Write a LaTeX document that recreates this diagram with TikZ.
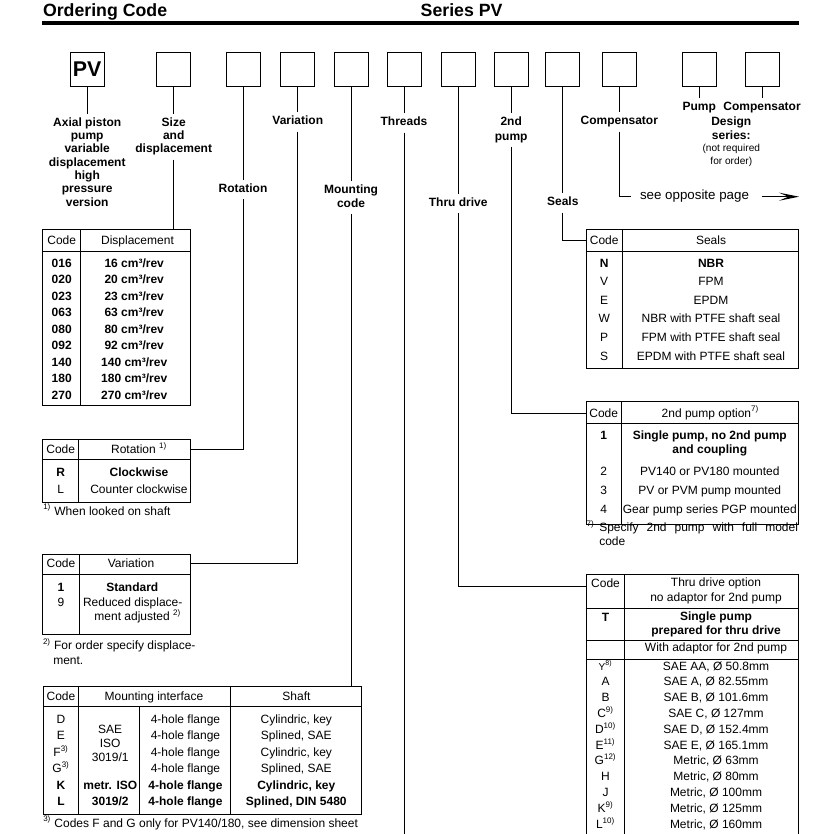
\documentclass[tikz,border=0pt]{standalone}
\usepackage{fontspec}
\setmainfont{Liberation Sans}
\usetikzlibrary{calc,arrows.meta}
\newcommand\lstr{\rule[-2pt]{0pt}{8.5pt}}
\begin{document}
\begin{tikzpicture}[x=0.75pt,y=-0.75pt,
  every node/.style={inner sep=0pt,outer sep=0pt},
  ln/.style={line width=0.75pt},
  codebox/.style={draw,line width=0.75pt,minimum width=25.5pt,minimum height=25.5pt},
  lab/.style={font=\fontsize{9}{10}\selectfont\bfseries,align=center,anchor=north,inner ysep=3pt},
  tbl/.style={draw,line width=0.75pt,anchor=north west},
  tx/.style={font=\fontsize{9}{11}\selectfont,anchor=base},
  tb/.style={font=\fontsize{9}{11}\selectfont\bfseries,anchor=base},
  fn/.style={font=\fontsize{9}{11}\selectfont,anchor=base west},
]
\useasboundingbox (0,0) rectangle (828,834);
\fill[white] (0,0) rectangle (828,834);
\clip (0,0) rectangle (828,834);

% ---------- heading
\node[font=\fontsize{13.3}{16}\selectfont\bfseries,anchor=base west] (title) at (43,16.3) {Ordering Code};
\node[font=\fontsize{13.3}{16}\selectfont\bfseries,anchor=base west] (series) at (420.7,16.3) {Series PV};
\draw[line width=3pt] (42,23) -- (799,23);

% ---------- code boxes
\node[codebox,font=\fontsize{16}{18}\selectfont\bfseries] (b1) at (87.2,69.3) {PV};
\foreach \n/\x in {2/173.7,3/243,4/297.8,5/351,6/404,7/458.2,8/511.2,9/562.8,10/619.3,11/699.2,12/762}
  \node[codebox] (b\n) at (\x,69.3) {};

% ---------- labels
\node[lab] (l1) at (87.2,113.6) {Axial piston\lstr\\pump\\variable\\displacement\\high\\pressure\\version\lstr};
\node[lab] (l2) at (173.7,113.6) {Size\lstr\\and\\displacement\lstr};
\node[lab] (l3) at (243,179.8) {Rotation\lstr};
\node[lab] (l4) at (297.8,112.3) {Variation\lstr};
\node[lab] (l5) at (351,181.3) {Mounting\lstr\\code\lstr};
\node[lab] (l6) at (404,113.3) {Threads\lstr};
\node[lab] (l7) at (458.2,193.8) {Thru drive\lstr};
\node[lab,font=\fontsize{9}{11}\selectfont\bfseries] (l8) at (511.2,112.8) {2nd\lstr\\pump\lstr};
\node[lab] (l9) at (562.8,193.3) {Seals\lstr};
\node[lab] (l10) at (619.3,112.3) {Compensator\lstr};
\node[lab] (l11) at (699.2,97.8) {Pump\lstr};
\node[lab] (l12) at (762,97.8) {Compensator\lstr};
\node[lab,font=\fontsize{9}{10.7}\selectfont\bfseries] (l13) at (731.3,112.8) {Design\lstr\\series:\lstr};
\node[font=\fontsize{7.6}{9}\selectfont,anchor=base] (nr1) at (731.3,151.7) {(not required};
\node[font=\fontsize{7.6}{9}\selectfont,anchor=base] (nr2) at (731.3,164.3) {for order)};
\node[font=\fontsize{10}{12}\selectfont,anchor=base west] (seeop) at (640,199.5) {see opposite page};

% ---------- tables
% displacement
\node[tbl,minimum width=111pt,minimum height=132.5pt] (disp) at (42.7,229.3) {};
\draw[ln] (80.7,229.3) -- (80.7,406);
\draw[ln] (42.7,251.7) -- (190.7,251.7);
\node[tx] (dh1) at (61.7,244) {Code};
\node[tx] (dh2) at (137.5,244) {Displacement};
\foreach \c/\v [count=\i from 0] in {016/16,020/20,023/23,063/63,080/80,092/92,140/140,180/180,270/270}{
  \node[tb] (dc\i) at ({61.7},{267+16.5*\i}) {\c};
  \node[tb] (dv\i) at ({134.2},{267+16.5*\i}) {\v\ cm³/rev};
}

% rotation
\node[tbl,minimum width=111pt,minimum height=47.25pt] (rot) at (42.7,439.3) {};
\draw[ln] (78.7,439.3) -- (78.7,502.3);
\draw[ln] (42.7,459.3) -- (190.7,459.3);
\node[tx] (rh1) at (60.7,453.3) {Code};
\node[tx] (rh2) at (139,453.3) {Rotation \textsuperscript{1)}};
\node[tb] (rc1) at (60.7,476) {R};
\node[tb] (rv1) at (139,476) {Clockwise};
\node[tx] (rc2) at (60.7,493.6) {L};
\node[tx] (rv2) at (139,493.6) {Counter clockwise};
\node[fn] (rf) at (43.3,515) {\textsuperscript{1)} When looked on shaft};

% variation
\node[tbl,minimum width=111pt,minimum height=60pt] (var) at (42.7,554.3) {};
\draw[ln] (79,554.3) -- (79,634.3);
\draw[ln] (42.7,574.3) -- (190.7,574.3);
\node[tx] (vh1) at (61,567.6) {Code};
\node[tx] (vh2) at (131,567.6) {Variation};
\node[tb] (vc1) at (61,591) {1};
\node[tb] (vv1) at (132.3,591) {Standard};
\node[tx] (vc2) at (61,606) {9};
\node[tx] (vv2) at (132.7,606) {Reduced displace-};
\node[tx] (vv3) at (137.7,620.5) {ment adjusted \textsuperscript{2)}};
\node[fn] (vf1) at (43,649.8) {\textsuperscript{2)} For order specify displace-};
\node[fn] (vf2) at (53.3,664) {ment.};

% mounting
\node[tbl,minimum width=238.8pt,minimum height=95.7pt] (mount) at (43.3,686.7) {};
\draw[ln] (78.7,686.7) -- (78.7,814.3);
\draw[ln] (230.7,686.7) -- (230.7,814.3);
\draw[ln] (139.3,706.7) -- (139.3,814.3);
\draw[ln] (43.3,706.7) -- (361.7,706.7);
\node[tx] (mh1) at (61,700.5) {Code};
\node[tx] (mh2) at (154,700.5) {Mounting interface};
\node[tx] (mh3) at (296.5,700.5) {Shaft};
\foreach \c/\f/\s [count=\i from 0] in {D/4-hole flange/{Cylindric, key},E/4-hole flange/{Splined, SAE},{F\textsuperscript{3)}}/4-hole flange/{Cylindric, key},{G\textsuperscript{3)}}/4-hole flange/{Splined, SAE}}{
  \node[tx] (mc\i) at ({61},{723.3+16.45*\i}) {\c};
  \node[tx] (mf\i) at ({185.5},{723.3+16.45*\i}) {\f};
  \node[tx] (ms\i) at ({296.3},{723.3+16.45*\i}) {\s};
}
\node[tb] (mc4) at (61,789.1) {K};
\node[tb] (mf4) at (185.5,789.1) {4-hole flange};
\node[tb] (ms4) at (296.3,789.1) {Cylindric, key};
\node[tb] (mc5) at (61,805.6) {L};
\node[tb] (mf5) at (185.5,805.6) {4-hole flange};
\node[tb] (ms5) at (296.3,805.6) {Splined, DIN 5480};
\node[tx] (mi1) at (110.2,733.6) {SAE};
\node[tx] (mi2) at (110.2,747.6) {ISO};
\node[tx] (mi3) at (110.2,761.6) {3019/1};
\node[tb] (mi4) at (110.3,789.1) {metr. ISO};
\node[tb] (mi5) at (110.3,805.6) {3019/2};
\node[fn] (mfn) at (43.3,827) {\textsuperscript{3)} Codes F and G only for PV140/180, see dimension sheet};

% seals
\node[tbl,minimum width=159.5pt,minimum height=104.25pt] (seals) at (586,229.3) {};
\draw[ln] (622.3,229.3) -- (622.3,368.3);
\draw[ln] (586,251.7) -- (798.7,251.7);
\node[tx] (sh1) at (604.2,244) {Code};
\node[tx] (sh2) at (711,244) {Seals};
\node[tb] (sc0) at (604.2,267) {N};
\node[tb] (sv0) at (711,267) {NBR};
\foreach \c/\v [count=\i from 1] in {V/FPM,E/EPDM,W/NBR with PTFE shaft seal,P/FPM with PTFE shaft seal,S/EPDM with PTFE shaft seal}{
  \node[tx] (sc\i) at ({604.2},{267+18.65*\i}) {\c};
  \node[tx] (sv\i) at ({711},{267+18.65*\i}) {\v};
}

% 2nd pump
\node[tbl,minimum width=159.3pt,minimum height=91.95pt] (ptwo) at (586.3,401.7) {};
\draw[ln] (621,401.7) -- (621,524.3);
\draw[ln] (586.3,423.3) -- (798.7,423.3);
\node[tx] (ph1) at (603.7,417) {Code};
\node[tx] (ph2) at (710.3,417) {2nd pump option\textsuperscript{7)}};
\node[tb] (pc1) at (603.7,439.3) {1};
\node[tb] (pv1) at (709.8,439.3) {Single pump, no 2nd pump};
\node[tb] (pv1b) at (709.8,453.5) {and coupling};
\node[tx] (pc2) at (603.7,475.3) {2};
\node[tx] (pv2) at (709.8,475.3) {PV140 or PV180 mounted};
\node[tx] (pc3) at (603.7,494.3) {3};
\node[tx] (pv3) at (709.8,494.3) {PV or PVM pump mounted};
\node[tx] (pc4) at (603.7,513.3) {4};
\node[tx] (pv4) at (709.8,513.3) {Gear pump series PGP mounted};
\node[fn] (pf0) at (586.7,531.4) {\textsuperscript{7)}};
\node[fn] (pf1) at (599.3,531.4) {\makebox[149pt][s]{Specify 2nd pump with full model}};
\node[fn] (pf2) at (599.3,545) {code};

% thru drive
\node[tbl,minimum width=158.7pt,minimum height=210pt] (thru) at (586.7,574.3) {};
\draw[ln] (624.3,574.3) -- (624.3,860);
\draw[ln] (586.7,608.3) -- (798.3,608.3);
\draw[ln] (586.7,640.7) -- (798.3,640.7);
\draw[ln] (586.7,659.3) -- (798.3,659.3);
\node[tx] (th1) at (605.5,587.6) {Code};
\node[tx] (th2) at (716,586.6) {Thru drive option};
\node[tx] (th3) at (716,601.4) {no adaptor for 2nd pump};
\node[tb] (tt1) at (605.5,621) {T};
\node[tb] (tt2) at (716,620.5) {Single pump};
\node[tb] (tt3) at (716,634.3) {prepared for thru drive};
\node[tx] (tw) at (716,651.4) {With adaptor for 2nd pump};
\foreach \c/\v [count=\i from 0] in {{\fontsize{7.5}{9}\selectfont Y\textsuperscript{8)}}/{SAE AA, Ø 50.8mm},A/{SAE A, Ø 82.55mm},B/{SAE B, Ø 101.6mm},{C\textsuperscript{9)}}/{SAE C, Ø 127mm},{D\textsuperscript{10)}}/{SAE D, Ø 152.4mm},{E\textsuperscript{11)}}/{SAE E, Ø 165.1mm},{G\textsuperscript{12)}}/{Metric, Ø 63mm},H/{Metric, Ø 80mm},J/{Metric, Ø 100mm},{K\textsuperscript{9)}}/{Metric, Ø 125mm},{L\textsuperscript{10)}}/{Metric, Ø 160mm}}{
  \node[tx] (tc\i) at ({605.5},{670+15.83*\i}) {\c};
  \node[tx] (tv\i) at ({716},{670+15.83*\i}) {\v};
}

% ---------- connector end points
\coordinate (rotin) at ($(rot.north east)+(0,10)$);
\coordinate (varin) at ($(var.north east)+(0,9)$);
\coordinate (sealin) at ($(seals.north west)+(0,11.4)$);
\coordinate (p2in) at ($(ptwo.north west)+(0,11.6)$);
\coordinate (thruin) at ($(thru.north west)+(0,12)$);
\coordinate (thrd) at (404,860);
\coordinate (seeend) at (630.7,196.7);
\coordinate (arrs) at (761.7,196.7);
\coordinate (arre) at (799,196.7);

% ---------- connectors
\draw[ln] (b1.south) -- (b1.south |- l1.north);
\draw[ln] (b2.south) -- (b2.south |- l2.north);
\draw[ln] (l2.south) -- (l2.south |- disp.north);
\draw[ln] (b3.south) -- (b3.south |- l3.north);
\draw[ln] (l3.south) |- (rotin);
\draw[ln] (b4.south) -- (b4.south |- l4.north);
\draw[ln] (l4.south) |- (varin);
\draw[ln] (b5.south) -- (b5.south |- l5.north);
\draw[ln] (l5.south) -- (l5.south |- mount.north);
\draw[ln] (b6.south) -- (b6.south |- l6.north);
\draw[ln] (l6.south) -- (l6.south |- thrd);
\draw[ln] (b7.south) -- (b7.south |- l7.north);
\draw[ln] (l7.south) |- (thruin);
\draw[ln] (b8.south) -- (b8.south |- l8.north);
\draw[ln] (l8.south) |- (p2in);
\draw[ln] (b9.south) -- (b9.south |- l9.north);
\draw[ln] (l9.south) |- (sealin);
\draw[ln] (b10.south) -- (b10.south |- l10.north);
\draw[ln] (l10.south) |- (seeend);
\draw[ln] (b11.south) -- (b11.south |- l11.north);
\draw[ln] (b12.south) -- (b12.south |- l12.north);
\draw[ln,-{Stealth[length=15pt,width=6pt,inset=7pt]}] (arrs) -- (arre);
\end{tikzpicture}
\end{document}
